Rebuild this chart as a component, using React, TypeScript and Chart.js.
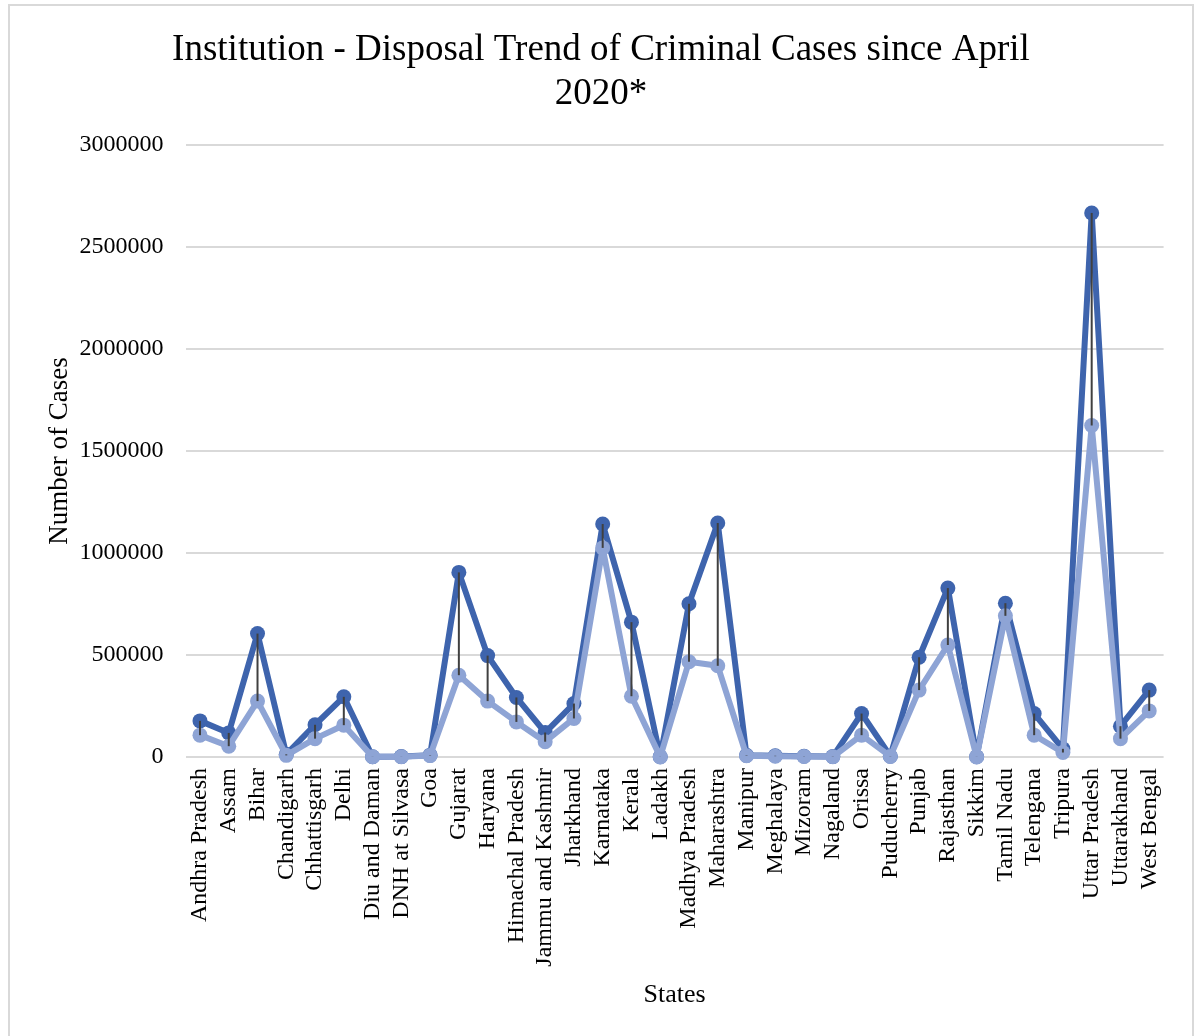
import React, { useEffect, useRef } from "react";
import { Chart, registerables } from "chart.js";

Chart.register(...registerables);

const categories = [
  "Andhra Pradesh", "Assam", "Bihar", "Chandigarh", "Chhattisgarh", "Delhi",
  "Diu and Daman", "DNH at Silvasa", "Goa", "Gujarat", "Haryana", "Himachal Pradesh",
  "Jammu and Kashmir", "Jharkhand", "Karnataka", "Kerala", "Ladakh", "Madhya Pradesh",
  "Maharashtra", "Manipur", "Meghalaya", "Mizoram", "Nagaland", "Orissa",
  "Puducherry", "Punjab", "Rajasthan", "Sikkim", "Tamil Nadu", "Telengana",
  "Tripura", "Uttar Pradesh", "Uttarakhand", "West Bengal",
];

const institution = [
  177000, 118000, 605000, 13000, 158000, 295000,
  1500, 2000, 9000, 905000, 497000, 292000,
  120000, 262000, 1142000, 661000, 1000, 751000,
  1147000, 8000, 6000, 4000, 2000, 213000,
  4000, 489000, 828000, 1000, 754000, 213000,
  40000, 2667000, 151000, 328000,
];

const disposal = [
  107000, 53000, 274000, 8000, 90000, 156000,
  1000, 1500, 7000, 401000, 274000, 172000,
  75000, 189000, 1025000, 298000, 500, 467000,
  447000, 6000, 4000, 3000, 1000, 107000,
  3000, 328000, 549000, 500, 692000, 107000,
  22000, 1625000, 90000, 226000,
];

const yTicks = [0, 500000, 1000000, 1500000, 2000000, 2500000, 3000000];

const titleLines = ["Institution - Disposal Trend of Criminal Cases since April", "2020*"];
const xTitle = "States";
const yTitle = "Number of Cases";

const DARK = "#3E64AD";
const LIGHT = "#8EA4D5";
const FONT = "'Liberation Serif', 'Times New Roman', serif";

const dropLines = {
  id: "dropLines",
  afterDatasetsDraw(chart: any) {
    const a = chart.getDatasetMeta(0);
    const b = chart.getDatasetMeta(1);
    const ctx = chart.ctx;
    ctx.save();
    ctx.strokeStyle = "#404040";
    ctx.lineWidth = 2;
    for (let i = 0; i < a.data.length; i++) {
      const p = a.data[i];
      const q = b.data[i];
      ctx.beginPath();
      ctx.moveTo(p.x, p.y);
      ctx.lineTo(q.x, q.y);
      ctx.stroke();
    }
    ctx.restore();
  },
};

export default function App() {
  const ref = useRef<HTMLCanvasElement | null>(null);
  useEffect(() => {
    if (!ref.current) return;
    const lineStyle = {
      borderWidth: 6,
      borderJoinStyle: "round" as const,
      borderCapStyle: "round" as const,
      pointRadius: 7.5,
      pointBorderWidth: 0,
      clip: false as any,
    };
    const chart = new Chart(ref.current, {
      type: "line",
      data: {
        labels: categories,
        datasets: [
          {
            label: "Institution",
            data: institution,
            borderColor: DARK,
            backgroundColor: DARK,
            pointBackgroundColor: DARK,
            order: 2,
            ...lineStyle,
          },
          {
            label: "Disposal",
            data: disposal,
            borderColor: LIGHT,
            backgroundColor: LIGHT,
            pointBackgroundColor: LIGHT,
            order: 1,
            ...lineStyle,
          },
        ],
      },
      options: {
        responsive: false,
        animation: false,
        layout: { padding: 0 },
        plugins: {
          legend: { display: false },
          tooltip: { enabled: false },
          title: {
            display: true,
            text: titleLines,
            color: "#000",
            font: { family: FONT, size: 37, weight: "normal", lineHeight: 44 / 37 },
            padding: { top: 22, bottom: 29 },
          },
        },
        scales: {
          x: {
            type: "category",
            offset: true,
            grid: { display: false, drawTicks: false },
            border: { display: false },
            ticks: {
              color: "#000",
              font: { family: FONT, size: 24 },
              minRotation: 90,
              maxRotation: 90,
              autoSkip: false,
              padding: 11,
            },
            title: {
              display: true,
              text: xTitle,
              color: "#000",
              font: { family: FONT, size: 26 },
              padding: { top: 0, bottom: 25 },
            },
            afterFit: (scale: any) => {
              scale.height = 279;
            },
          },
          y: {
            min: 0,
            max: 3000000,
            grid: { color: "#d9d9d9", lineWidth: 2, drawTicks: false },
            border: { display: false },
            afterBuildTicks: (scale: any) => {
              scale.ticks = yTicks.map((v) => ({ value: v }));
            },
            ticks: {
              color: "#000",
              font: { family: FONT, size: 24 },
              padding: 22,
              callback: (v: any) => String(v),
            },
            title: {
              display: true,
              text: yTitle,
              color: "#000",
              font: { family: FONT, size: 27 },
              padding: { top: 34, bottom: 0 },
            },
            afterFit: (scale: any) => {
              scale.width = 175.6;
            },
          },
          yRight: {
            position: "right",
            min: 0,
            max: 3000000,
            grid: { display: false, drawTicks: false },
            border: { display: false },
            ticks: { display: false },
            afterFit: (scale: any) => {
              scale.width = 28.4;
            },
          },
        },
      },
      plugins: [dropLines],
    });
    return () => chart.destroy();
  }, []);

  return (
    <div
      style={{
        position: "absolute",
        left: 8,
        top: 4,
        width: 1182,
        height: 1030,
        border: "2px solid #d9d9d9",
        background: "#fff",
      }}
    >
      <canvas ref={ref} width={1182} height={1030} style={{ display: "block" }} />
    </div>
  );
}
